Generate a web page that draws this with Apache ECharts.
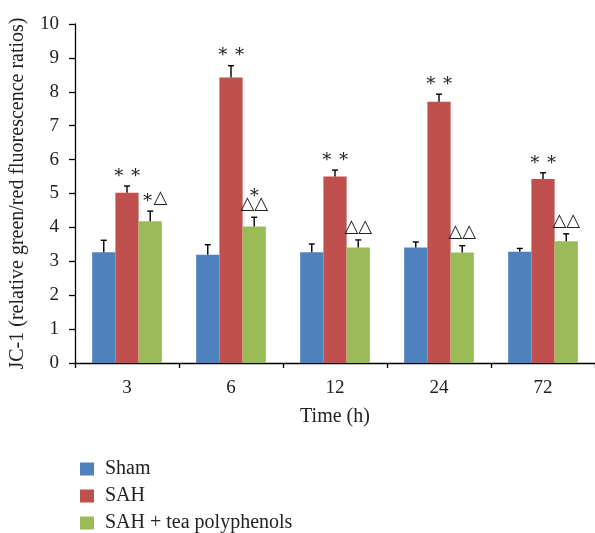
<!DOCTYPE html>
<html>
<head>
<meta charset="utf-8">
<script src="https://cdn.jsdelivr.net/npm/echarts@6/dist/echarts.min.js"></script>
<style>html,body{margin:0;padding:0;background:#fff;}#c{width:595px;height:533px;}</style>
</head>
<body>
<div id="c"></div>
<script>
const categories = ['3', '6', '12', '24', '72'];
const seriesNames = ['Sham', 'SAH', 'SAH + tea polyphenols'];
const sham = [3.27, 3.19, 3.27, 3.41, 3.28];
const shamErr = [0.35, 0.30, 0.24, 0.16, 0.10];
const sah = [5.02, 8.42, 5.50, 7.71, 5.43];
const sahErr = [0.20, 0.35, 0.19, 0.22, 0.18];
const tea = [4.18, 4.03, 3.41, 3.26, 3.59];
const teaErr = [0.30, 0.27, 0.22, 0.20, 0.22];
const shamMarks = ['', '', '', '', ''];
const sahMarks = ['∗ ∗', '∗ ∗', '∗ ∗', '∗ ∗', '∗ ∗'];
const teaMarks = ['∗△', '∗\n△△', '△△', '△△', '△△'];
const yTicks = [0, 1, 2, 3, 4, 5, 6, 7, 8, 9, 10];

const colors = ['#4F81BD', '#C0504D', '#9BBB59'];
const FONT = '"Liberation Serif", "DejaVu Serif", serif';
const CAT_GAP = 0.33;

const values = [sham, sah, tea];
const errs = [shamErr, sahErr, teaErr];
const marks = [shamMarks, sahMarks, teaMarks];

function makeErrSeries(k) {
  return {
    type: 'custom',
    name: 'err' + k,
    z: 5,
    data: categories.map((c, i) => [i, values[k][i], errs[k][i]]),
    encode: { x: 0, y: 1 },
    renderItem: function (params, api) {
      const i = api.value(0);
      const v = api.value(1);
      const e = api.value(2);
      const mark = marks[k][i];
      const band = api.size([1, 0])[0];
      const groupW = band * (1 - CAT_GAP);
      const barW = groupW / 3;
      const base = api.coord([i, v]);
      const top = api.coord([i, v + e]);
      const cx = base[0] - groupW / 2 + barW * (k + 0.5);
      const cap = 3;
      const children = [
        { type: 'line', shape: { x1: cx, y1: base[1], x2: cx, y2: top[1] }, style: { stroke: '#000', lineWidth: 1.4 } },
        { type: 'line', shape: { x1: cx - cap, y1: top[1], x2: cx + cap, y2: top[1] }, style: { stroke: '#000', lineWidth: 1.4 } }
      ];
      if (mark) {
        const lines = mark.split('\n').reverse();
        let y = top[1] - 4;
        lines.forEach(function (ln) {
          children.push({
            type: 'text',
            style: { text: ln, x: cx + (k === 2 && i === 0 ? 4 : 0), y: y, align: 'center', verticalAlign: 'bottom', fill: '#222', font: '18px ' + FONT }
          });
          y -= 11;
        });
      }
      return { type: 'group', children: children };
    }
  };
}

function legendItem(name, top) {
  return {
    data: [name],
    orient: 'vertical',
    left: 75,
    top: top,
    itemWidth: 14,
    itemHeight: 13,
    icon: 'rect',
    textStyle: { fontFamily: FONT, fontSize: 20, color: '#222', padding: [0, 0, 0, 6] }
  };
}

const chart = echarts.init(document.getElementById('c'), null, { renderer: 'canvas' });
chart.setOption({
  animation: false,
  backgroundColor: '#fff',
  textStyle: { fontFamily: FONT },
  grid: { left: 74, right: -4, top: 24, bottom: 170 },
  legend: [
    legendItem(seriesNames[0], 454),
    legendItem(seriesNames[1], 481),
    legendItem(seriesNames[2], 508)
  ],
  xAxis: {
    type: 'category',
    data: categories,
    name: 'Time (h)',
    nameLocation: 'middle',
    nameGap: 44,
    nameTextStyle: { fontFamily: FONT, fontSize: 20, color: '#222' },
    axisLine: { lineStyle: { color: '#000', width: 1.3 } },
    axisTick: { show: true, length: 5, lineStyle: { color: '#000', width: 1.3 } },
    axisLabel: { fontFamily: FONT, fontSize: 19, color: '#222', margin: 16 },
    splitLine: { show: false }
  },
  yAxis: {
    type: 'value',
    min: yTicks[0],
    max: yTicks[yTicks.length - 1],
    interval: 1,
    name: 'JC-1 (relative green/red fluorescence ratios)',
    nameLocation: 'middle',
    nameGap: 47,
    nameTextStyle: { fontFamily: FONT, fontSize: 20, color: '#222' },
    axisLine: { show: true, lineStyle: { color: '#000', width: 1.3 } },
    axisTick: { show: true, length: 6, lineStyle: { color: '#000', width: 1.3 } },
    axisLabel: { fontFamily: FONT, fontSize: 19, color: '#222', margin: 16 },
    splitLine: { show: false }
  },
  series: [
    { type: 'bar', name: seriesNames[0], data: sham, itemStyle: { color: colors[0] }, barGap: '0%', barCategoryGap: (CAT_GAP * 100) + '%' },
    { type: 'bar', name: seriesNames[1], data: sah, itemStyle: { color: colors[1] }, barGap: '0%', barCategoryGap: (CAT_GAP * 100) + '%' },
    { type: 'bar', name: seriesNames[2], data: tea, itemStyle: { color: colors[2] }, barGap: '0%', barCategoryGap: (CAT_GAP * 100) + '%' },
    makeErrSeries(0),
    makeErrSeries(1),
    makeErrSeries(2)
  ]
});
</script>
</body>
</html>
